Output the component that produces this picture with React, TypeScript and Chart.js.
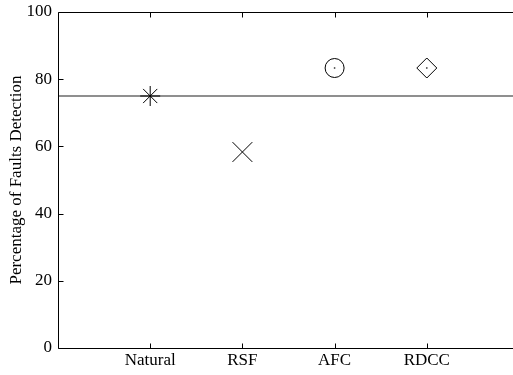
import React, { useEffect, useRef } from "react";
import { Chart, registerables } from "chart.js";

Chart.register(...registerables);

const categories = ["Natural", "RSF", "AFC", "RDCC"];
const categoryPositions = [1, 2, 3, 4];
const detectionRates = [75, 58.33, 83.33, 83.33];
const referenceLevel = 75;
const xRange = [0, 5];
const yTicks = [0, 20, 40, 60, 80, 100];

const markerStyles = ["star", "crossRot", "circle", "rectRot"];
const markerRadii = [10, 14, 9.5, 10];
const dottedMarkers = [false, false, true, true];

const FONT = '"Liberation Serif", "Times New Roman", Times, serif';

const frameAndTicks = {
  id: "frameAndTicks",
  afterDatasetsDraw(chart: any) {
    const { ctx, chartArea, scales } = chart;
    const { left, right, top, bottom } = chartArea;
    ctx.save();
    ctx.strokeStyle = "#000";
    ctx.lineWidth = 1;
    ctx.beginPath();
    const L = Math.round(left) + 0.5;
    const R = Math.round(right) + 0.5;
    const T = Math.round(top) + 0.5;
    const B = Math.round(bottom) + 0.5;
    ctx.rect(L, T, R - L, B - T);
    const tl = 5;
    yTicks.forEach((v) => {
      const y = Math.round(scales.y.getPixelForValue(v)) + 0.5;
      ctx.moveTo(L, y);
      ctx.lineTo(L + tl, y);
    });
    categoryPositions.forEach((v) => {
      const x = Math.round(scales.x.getPixelForValue(v)) + 0.5;
      ctx.moveTo(x, B);
      ctx.lineTo(x, B - tl);
      ctx.moveTo(x, T);
      ctx.lineTo(x, T + tl);
    });
    ctx.stroke();
    ctx.restore();
  },
};

export default function App() {
  const ref = useRef<HTMLCanvasElement | null>(null);

  useEffect(() => {
    if (!ref.current) return;
    Chart.defaults.font.family = FONT;
    const markerSets = categories.map((name, i) => ({
      type: "scatter" as const,
      label: name,
      data: [{ x: categoryPositions[i], y: detectionRates[i] }],
      pointStyle: markerStyles[i],
      pointRadius: markerRadii[i],
      pointBorderColor: "#000",
      pointBackgroundColor: "rgba(0,0,0,0)",
      pointBorderWidth: 1,
      order: 1,
    }));
    const dotData = categories
      .map((_, i) => (dottedMarkers[i] ? { x: categoryPositions[i], y: detectionRates[i] } : null))
      .filter((d) => d !== null);
    const chart = new Chart(ref.current, {
      type: "scatter",
      data: {
        datasets: [
          ...markerSets,
          {
            type: "scatter" as const,
            label: "dots",
            data: dotData as any,
            pointStyle: "circle",
            pointRadius: 0.9,
            pointBorderWidth: 0,
            pointBackgroundColor: "#555",
            order: 0,
          },
          {
            type: "line" as const,
            label: "reference",
            data: [
              { x: xRange[0], y: referenceLevel },
              { x: xRange[1], y: referenceLevel },
            ],
            borderColor: "#6a6a6a",
            borderWidth: 1.6,
            pointRadius: 0,
            showLine: true,
            order: 2,
          },
        ] as any,
      },
      options: {
        responsive: false,
        maintainAspectRatio: false,
        animation: false,
        events: [],
        layout: { autoPadding: false, padding: { top: 12, right: 11, left: 0, bottom: 0 } },
        plugins: { legend: { display: false }, tooltip: { enabled: false } },
        scales: {
          x: {
            type: "linear",
            min: xRange[0],
            max: xRange[1],
            grid: { display: false, drawTicks: false },
            border: { display: false },
            afterFit: (s: any) => {
              s.height = 27;
              s.paddingLeft = 0;
              s.paddingRight = 0;
            },
            afterBuildTicks: (s: any) => {
              s.ticks = categoryPositions.map((v) => ({ value: v }));
            },
            ticks: {
              autoSkip: false,
              maxRotation: 0,
              padding: 2,
              color: "#000",
              font: { size: 17, family: FONT },
              callback: (v: any) => {
                const idx = categoryPositions.indexOf(Number(v));
                return idx >= 0 ? categories[idx] : "";
              },
            },
          },
          y: {
            type: "linear",
            min: 0,
            max: 100,
            grid: { display: false, drawTicks: false },
            border: { display: false },
            afterFit: (s: any) => {
              s.width = 58;
              s.paddingTop = 0;
              s.paddingBottom = 0;
            },
            afterBuildTicks: (s: any) => {
              s.ticks = yTicks.map((v) => ({ value: v }));
            },
            ticks: {
              padding: 6,
              color: "#000",
              font: { size: 17, family: FONT },
            },
            title: {
              display: true,
              text: "Percentage of Faults Detection",
              color: "#000",
              font: { size: 17, family: FONT },
              padding: { top: 6, bottom: 0 },
            },
          },
        },
      },
      plugins: [frameAndTicks],
    });
    return () => chart.destroy();
  }, []);

  return (
    <div
      style={{
        position: "fixed",
        left: 0,
        top: 0,
        width: 513,
        height: 375,
        overflow: "hidden",
        background: "#fff",
      }}
    >
      <div style={{ position: "relative", width: 530, height: 375 }}>
        <canvas ref={ref} width={530} height={375} style={{ width: 530, height: 375, display: "block" }} />
      </div>
    </div>
  );
}
